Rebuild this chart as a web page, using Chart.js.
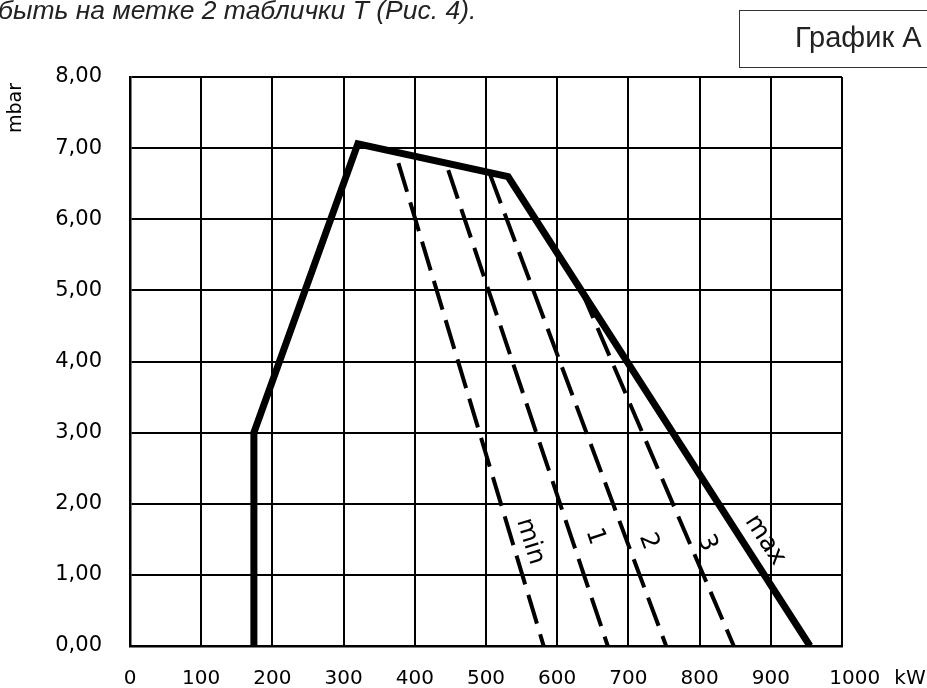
<!DOCTYPE html>
<html lang="ru">
<head>
  <meta charset="UTF-8">
  <title>График А</title>
  <script src="https://cdn.jsdelivr.net/npm/chart.js"></script>
  <style>
    body {
      margin: 0;
      background: #fff;
    }
    .wrap {
      position: relative;
      width: 927px;
      height: 688px;
      overflow: hidden;
    }
    .note {
      position: absolute;
      left: -2px;
      top: -3px;
      font-family: "Liberation Sans", Arial, sans-serif;
      font-style: italic;
      font-size: 26.5px;
      line-height: 1;
      color: #222;
      white-space: nowrap;
    }
    .tag {
      position: absolute;
      left: 739px;
      top: 10px;
      width: 220px;
      height: 58px;
      border: 1px solid #333;
      box-sizing: border-box;
    }
    .tag span {
      position: absolute;
      left: 55px;
      top: 12px;
      font-family: "Liberation Sans", Arial, sans-serif;
      font-size: 29px;
      line-height: 1;
      color: #222;
      white-space: nowrap;
    }
    canvas {
      position: absolute;
      left: 0;
      top: 0;
    }
  </style>
</head>
<body>
  <div class="wrap">
    <canvas id="chart"></canvas>
    <div class="note">быть на метке 2 таблички Т (Рис. 4).</div>
    <div class="tag"><span>График А</span></div>
  </div>

  <script>
    // operating field envelope (kW, mbar)
    const envKW   = [174, 174, 320, 531, 955];
    const envMbar = [0, 3.0, 7.06, 6.60, 0];

    // dashed lines for the settings min, 1, 2, 3
    const minKW   = [377, 581];
    const minMbar = [6.79, 0];
    const oneKW   = [447, 671];
    const oneMbar = [6.69, 0];
    const twoKW   = [506, 753];
    const twoMbar = [6.62, 0];
    const threeKW   = [634, 848];
    const threeMbar = [5.0, 0];

    // curve captions: text, kW, mbar, angle (deg)
    const capText  = ['min', '1', '2', '3', 'max'];
    const capKW    = [562, 653, 728, 810, 892];
    const capMbar  = [1.47, 1.54, 1.47, 1.45, 1.49];
    const capAngle = [73, 71.5, 69.4, 68, 57];

    const xTicks = [0, 100, 200, 300, 400, 500, 600, 700, 800, 900, 1000];
    const yTicks = [0, 1, 2, 3, 4, 5, 6, 7, 8];

    function pts(xs, ys) {
      return xs.map((x, i) => ({ x: x, y: ys[i] }));
    }

    function dashed(xs, ys) {
      return {
        data: pts(xs, ys),
        borderColor: '#000',
        borderWidth: 4,
        borderDash: [30, 11],
        pointRadius: 0,
        showLine: true,
        fill: false
      };
    }

    const captions = {
      id: 'captions',
      afterDatasetsDraw(chart) {
        const ctx = chart.ctx;
        const xs = chart.scales.x, ys = chart.scales.y;
        ctx.save();
        ctx.fillStyle = '#000';
        ctx.font = '25px "DejaVu Sans"';
        ctx.textAlign = 'center';
        ctx.textBaseline = 'middle';
        capText.forEach((t, i) => {
          ctx.save();
          ctx.translate(xs.getPixelForValue(capKW[i]), ys.getPixelForValue(capMbar[i]));
          ctx.rotate(capAngle[i] * Math.PI / 180);
          ctx.fillText(t, 0, 0);
          ctx.restore();
        });
        // unit at the end of the x axis
        ctx.font = '20px "DejaVu Sans"';
        ctx.fillText('kW', xs.getPixelForValue(1000) + 68, ys.bottom + 33);
        ctx.restore();
      }
    };

    new Chart(document.getElementById('chart'), {
      type: 'scatter',
      data: {
        datasets: [
          {
            data: pts(envKW, envMbar),
            borderColor: '#000',
            borderWidth: 7,
            borderJoinStyle: 'miter',
            pointRadius: 0,
            showLine: true,
            fill: false
          },
          dashed(minKW, minMbar),
          dashed(oneKW, oneMbar),
          dashed(twoKW, twoMbar),
          dashed(threeKW, threeMbar)
        ]
      },
      options: {
        responsive: true,
        maintainAspectRatio: false,
        animation: false,
        layout: { padding: { top: 77, right: 85, left: 0, bottom: 0 } },
        plugins: {
          legend: { display: false },
          tooltip: { enabled: false }
        },
        scales: {
          x: {
            type: 'linear',
            min: 0,
            max: 1000,
            afterFit: s => { s.height = 42; },
            afterBuildTicks: s => { s.ticks = xTicks.map(v => ({ value: v })); },
            grid: { color: '#000', lineWidth: 2, drawTicks: false },
            border: { color: '#000', width: 2.5 },
            ticks: {
              color: '#000',
              font: { family: 'DejaVu Sans', size: 20 },
              padding: 21,
              maxRotation: 0,
              autoSkip: false,
              callback: v => v === 1000 ? '\u00a0\u00a0\u00a0\u00a01000' : String(v)
            }
          },
          y: {
            type: 'linear',
            min: 0,
            max: 8,
            afterFit: s => { s.width = 130; },
            afterBuildTicks: s => { s.ticks = yTicks.map(v => ({ value: v })); },
            grid: { color: '#000', lineWidth: 2, drawTicks: false },
            border: { color: '#000', width: 2.5 },
            ticks: {
              color: '#000',
              font: { family: 'DejaVu Sans', size: 21 },
              padding: 28,
              callback: v => v.toFixed(2).replace('.', ',')
            },
            title: {
              display: true,
              text: 'mbar\u00a0',
              align: 'end',
              color: '#000',
              font: { family: 'DejaVu Sans', size: 19 },
              padding: { top: 5, bottom: 0 }
            }
          }
        }
      },
      plugins: [captions]
    });
  </script>
</body>
</html>
